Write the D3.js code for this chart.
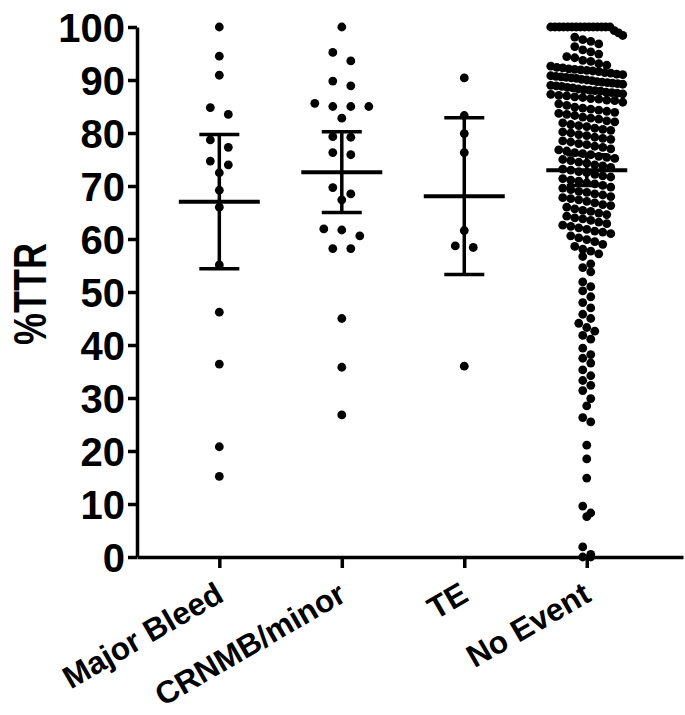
<!DOCTYPE html>
<html>
<head>
<meta charset="utf-8">
<script src="https://cdn.jsdelivr.net/npm/d3@7"></script>
<style>
  body { margin: 0; background: #fff; }
  svg text { font-family: "Liberation Sans", Arial, sans-serif; font-weight: bold; fill: #000; }
</style>
</head>
<body>
<svg width="685" height="715"></svg>
<script>
"use strict";

var categories = ['Major Bleed', 'CRNMB/minor', 'TE', 'No Event'];
var yTicks = [0, 10, 20, 30, 40, 50, 60, 70, 80, 90, 100];
var yLabel = '%TTR';

var majorBleed = [100, 94.5, 90.9, 84.8, 83.5, 78.7, 77.3, 74.7, 74.0, 72.5, 69.2, 66.0, 55.1, 46.2, 36.4, 20.8, 15.2];
var crnmbMinor = [100, 95.2, 93.6, 89.8, 88.9, 85.6, 85.0, 85.0, 85.0, 82.8, 79.3, 79.2, 76.3, 75.9,
  69.7, 68.5, 67.4, 61.9, 61.7, 60.6, 58.2, 58.2, 45.0, 35.8, 26.8];
var te = [90.4, 83.3, 79.9, 76.3, 61.6, 58.7, 58.4, 36.0];
var noEvent = [
  100, 100, 100, 100, 100, 100, 100, 100, 100, 100, 100, 100, 100, 100, 100,
  99.3, 98.9, 98.4, 98.1, 97.6, 97.3, 96.8, 96.3,
  95.7, 95.3, 94.9, 94.4, 94.2, 93.7, 93.5, 93.1, 92.8, 92.6,
  92.4, 92.3, 92.1, 92.0, 91.8, 91.7, 91.6, 91.4, 91.3, 91.1,
  91.0, 90.8, 90.7, 90.6, 90.4, 90.3, 90.1, 90.0, 89.9, 89.7,
  89.6, 89.5, 89.3, 89.2, 89.0, 88.9, 88.8, 88.6, 88.5, 88.3,
  88.2, 88.0, 87.9, 87.7, 87.6, 87.4, 87.3, 87.1, 87.0, 86.8,
  86.7, 86.5, 86.4, 86.2, 86.1, 91.9, 90.5, 89.4, 88.1, 87.5,
  85.8, 85.5, 85.2, 84.9, 84.7, 84.5, 84.3,
  84.1, 83.9, 83.7, 83.5, 83.3, 83.0, 82.8, 82.6, 82.3, 82.1,
  81.9, 81.6, 81.4, 81.2, 80.9, 80.7, 80.5, 80.2, 80.0, 79.7,
  79.5, 79.2, 79.0, 78.8, 78.5, 78.3, 78.0, 77.8, 77.5, 77.3,
  77.0, 76.8, 76.6, 76.3, 76.1, 75.9, 75.6, 75.4, 75.2, 75.0,
  74.8, 74.5, 74.3, 74.0, 73.8, 73.5, 73.2, 73.0, 72.7, 72.5,
  72.2, 71.9, 71.7, 71.4, 71.1, 70.9, 70.6, 70.4, 70.1, 69.8,
  69.6, 69.3, 69.0, 68.8, 68.5, 68.3, 68.0, 67.8, 67.6, 67.4,
  67.1, 66.8, 66.5, 66.3, 66.0, 65.7, 65.4, 65.2, 64.9, 64.6,
  64.3, 64.0, 63.8, 63.5, 63.2, 62.9, 62.6, 62.4, 62.1, 61.8,
  61.5, 61.3, 61.0,
  60.6, 60.2, 59.9, 59.5, 59.0, 58.6, 58.1, 57.7, 57.2, 56.7,
  55.3, 54.6, 53.8,
  51.9, 51.0, 50.2, 49.1, 48.0, 47.0,
  45.8, 45.0, 44.1, 43.3, 42.6, 41.8, 41.1,
  39.4, 38.2, 37.5, 36.6, 35.3, 34.2,
  33.3, 32.4, 31.4,
  29.9, 28.5,
  26.3, 25.5,
  21.1, 18.5, 14.9, 9.6, 8.3, 7.6, 1.9, 0.5, 0, 0
];
var groups = [majorBleed, crnmbMinor, te, noEvent];

var margin = {top: 27, right: 2, bottom: 158, left: 137};
var width = 685 - margin.left - margin.right;
var height = 715 - margin.top - margin.bottom;

var svg = d3.select("svg");
var g = svg.append("g").attr("transform", "translate(" + margin.left + "," + margin.top + ")");

var x = d3.scalePoint().domain(categories).range([0, width]).padding(0.729).align(0.461);
var y = d3.scaleLinear().domain([0, 100]).range([height, 0]);

// two-sided 95% t critical value (Cornish-Fisher expansion)
function tCrit(df) {
  var z = 1.959964;
  var z3 = z*z*z, z5 = z3*z*z, z7 = z5*z*z, z9 = z7*z*z;
  return z + (z3 + z)/(4*df) + (5*z5 + 16*z3 + 3*z)/(96*df*df)
    + (3*z7 + 19*z5 + 17*z3 - 15*z)/(384*df*df*df)
    + (79*z9 + 776*z7 + 1482*z5 - 1920*z3 - 945*z)/(92160*Math.pow(df, 4));
}

// spread points of similar value sideways, like a column scatter
function swarm(values, cat) {
  var sorted = values.slice().sort((a, b) => b - a);
  var sp = values.length > 100 ? 8 : 18;
  var maxW = 72, binPx = 9;
  var out = [], bin = [];
  function flush() {
    var n = bin.length;
    var s = n > 1 ? Math.min(sp, maxW/(n - 1)) : 0;
    bin.forEach((v, i) => out.push({cat: cat, value: v, dx: (i - (n - 1)/2)*s}));
    bin = [];
  }
  sorted.forEach(v => {
    if (bin.length && y(v) - y(bin[0]) > binPx) flush();
    bin.push(v);
  });
  flush();
  return out;
}

var points = [];
var stats = [];
groups.forEach((vals, i) => {
  points = points.concat(swarm(vals, categories[i]));
  var m = d3.mean(vals);
  var ci = tCrit(vals.length - 1)*d3.deviation(vals)/Math.sqrt(vals.length);
  stats.push({cat: categories[i], mean: m, lo: m - ci, hi: m + ci});
});

// axes
var yAxis = g.append("g")
  .call(d3.axisLeft(y).tickValues(yTicks).tickSize(9).tickSizeOuter(0).tickPadding(3));
var xAxis = g.append("g")
  .attr("transform", "translate(0," + height + ")")
  .call(d3.axisBottom(x).tickSize(11).tickSizeOuter(0).tickFormat(''));
svg.selectAll(".domain").attr("stroke", "#000").attr("stroke-width", 3.5);
svg.selectAll(".tick line").attr("stroke", "#000").attr("stroke-width", 3.5);
yAxis.selectAll(".tick text").attr("font-size", 40).attr("dy", "0.36em");

g.append("g").selectAll("text")
  .data(categories)
  .enter()
  .append("text")
  .attr("transform", d => "translate(" + (x(d) - 5) + "," + (height + 24) + ") rotate(-30)")
  .attr("text-anchor", "end")
  .attr("font-size", 31.5)
  .attr("dy", "0.7em")
  .text(d => d);

g.append("text")
  .attr("transform", "translate(" + (-91) + "," + (height/2 + 2) + ") rotate(-90)")
  .attr("text-anchor", "middle")
  .attr("font-size", 47)
  .attr("textLength", 102)
  .attr("lengthAdjust", "spacingAndGlyphs")
  .text(yLabel);

// dots
g.append("g").selectAll("circle")
  .data(points)
  .enter()
  .append("circle")
  .attr("r", 4.4)
  .attr("cx", d => x(d.cat) + d.dx)
  .attr("cy", d => y(d.value))
  .attr("fill", "#000");

// mean with 95% CI
var bars = g.append("g").attr("stroke", "#000").attr("stroke-width", 3.5).selectAll("g")
  .data(stats)
  .enter()
  .append("g");
bars.append("line")
  .attr("x1", d => x(d.cat)).attr("x2", d => x(d.cat))
  .attr("y1", d => y(d.lo)).attr("y2", d => y(d.hi));
bars.append("line")
  .attr("x1", d => x(d.cat) - 40.5).attr("x2", d => x(d.cat) + 40.5)
  .attr("y1", d => y(d.mean)).attr("y2", d => y(d.mean))
  .attr("stroke-width", 4);
bars.selectAll(".cap")
  .data(d => [{cat: d.cat, v: d.lo}, {cat: d.cat, v: d.hi}])
  .enter()
  .append("line")
  .attr("class", "cap")
  .attr("x1", d => x(d.cat) - 20).attr("x2", d => x(d.cat) + 20)
  .attr("y1", d => y(d.v)).attr("y2", d => y(d.v));
</script>
</body>
</html>
